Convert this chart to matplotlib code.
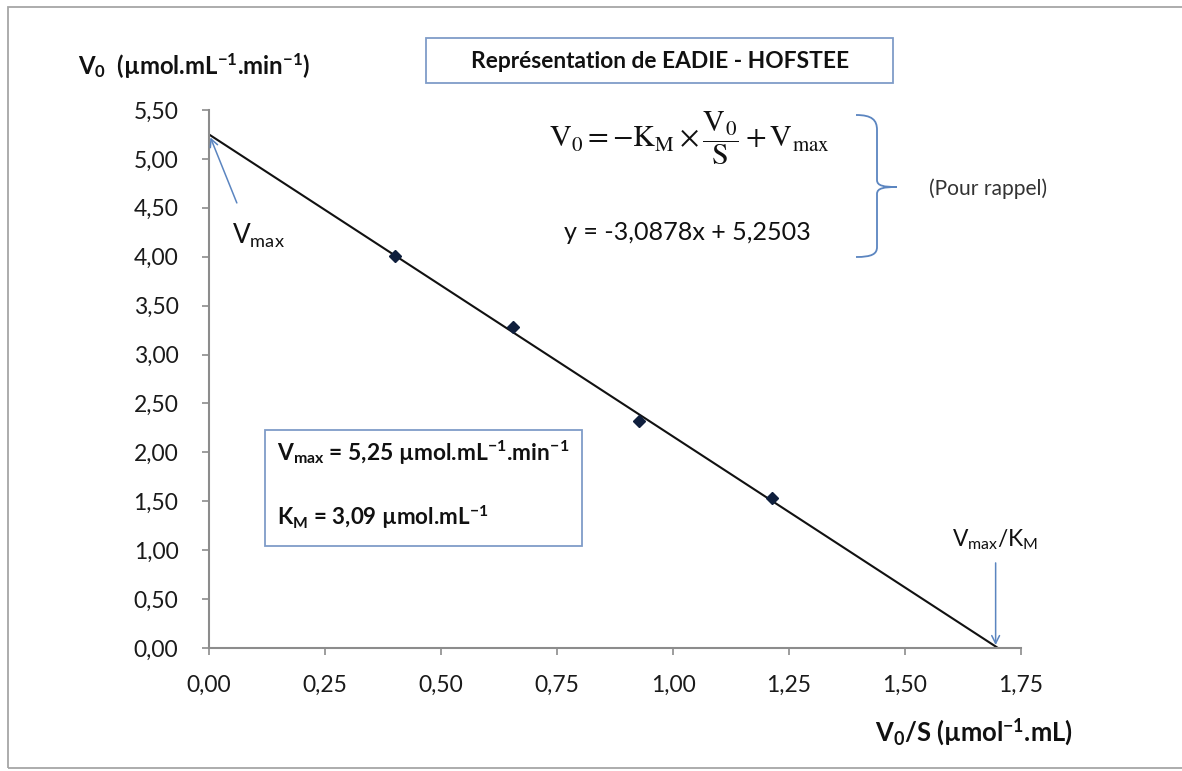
import matplotlib
matplotlib.use("Agg")
import matplotlib.pyplot as plt
from matplotlib.patches import Rectangle, PathPatch
from matplotlib.path import Path
from matplotlib.ticker import FuncFormatter
import numpy as np

# ---------------- data ----------------
x_vals = [0.400, 0.655, 0.927, 1.213]      # V0/S
y_vals = [4.01, 3.28, 2.32, 1.53]          # V0
slope = -3.0878
intercept = 5.2503
x_ticks = [0.00, 0.25, 0.50, 0.75, 1.00, 1.25, 1.50, 1.75]
y_ticks = [0.00, 0.50, 1.00, 1.50, 2.00, 2.50, 3.00, 3.50, 4.00, 4.50, 5.00, 5.50]

title_text = "Représentation de EADIE - HOFSTEE"
ylabel_text = r"$\mathbf{V_0}$  (µmol.mL$^{\mathbf{-1}}$.min$^{\mathbf{-1}}$)"
xlabel_text = r"$\mathbf{V_0}$/S (µmol$^{\mathbf{-1}}$.mL)"
equation_text = (r"$\mathrm{V_0} = -\mathrm{K_M} \times \dfrac{\mathrm{V_0}}{\mathrm{S}}"
                 r" + \mathrm{V_{max}}$")
fit_text = "y = -3,0878x + 5,2503"
rappel_text = "(Pour rappel)"
vmax_line = r"$\mathbf{V_{max}}$ = 5,25 µmol.mL$^{\mathbf{-1}}$.min$^{\mathbf{-1}}$"
km_line = r"$\mathbf{K_M}$ = 3,09 µmol.mL$^{\mathbf{-1}}$"
vmax_label = r"$\mathrm{V_{max}}$"
vmaxkm_label = r"$\mathrm{V_{max}}$/$\mathrm{K_M}$"

# ---------------- style ----------------
plt.rcParams['font.family'] = ['Lato', 'DejaVu Sans']
plt.rcParams['mathtext.fontset'] = 'custom'
plt.rcParams['mathtext.rm'] = 'Lato'
plt.rcParams['mathtext.it'] = 'Lato:italic'
plt.rcParams['mathtext.bf'] = 'Lato:bold'

W, H = 1182, 771
fig = plt.figure(figsize=(W / 100, H / 100), dpi=100)
fig.patch.set_facecolor('white')

def fx(px):
    return px / W

def fy(py):
    return 1 - py / H

ax_l, ax_r, ax_t, ax_b = 209, 1021, 110, 648
ax = fig.add_axes([fx(ax_l), fy(ax_b), (ax_r - ax_l) / W, (ax_b - ax_t) / H])
ax.set_xlim(x_ticks[0], x_ticks[-1])
ax.set_ylim(y_ticks[0], y_ticks[-1])
ax.set_xticks(x_ticks)
ax.set_yticks(y_ticks)
comma = FuncFormatter(lambda v, p: f"{v:.2f}".replace('.', ','))
ax.xaxis.set_major_formatter(comma)
ax.yaxis.set_major_formatter(comma)
for s in ['top', 'right']:
    ax.spines[s].set_visible(False)
axis_grey = '#8c8c8c'
for s in ['left', 'bottom']:
    ax.spines[s].set_color(axis_grey)
    ax.spines[s].set_linewidth(1.5)
ax.tick_params(axis='both', direction='out', length=5, width=1.2, color=axis_grey,
               labelsize=16.5, labelcolor='#1a1a1a')
ax.tick_params(axis='y', pad=17)
ax.tick_params(axis='x', pad=14)
ax.patch.set_alpha(0)

# trend line from regression coefficients
x_int = -intercept / slope
xl = np.array([0.0, x_int])
ax.plot(xl, slope * xl + intercept, color='#111111', lw=1.5, zorder=2)
ax.plot(x_vals, y_vals, linestyle='none', marker='D', markersize=6,
        color='#0f1f3d', zorder=3)

blue = '#5b85c0'
# arrows
ax.annotate('', xy=(0.003, 5.22), xytext=(0.060, 4.55),
            arrowprops=dict(arrowstyle='->', color=blue, lw=1.1, shrinkA=0, shrinkB=0,
                            mutation_scale=14))
ax.annotate('', xy=(x_int - 0.005, 0.03), xytext=(x_int - 0.005, 0.87),
            arrowprops=dict(arrowstyle='->', color=blue, lw=1.1, shrinkA=0, shrinkB=0,
                            mutation_scale=14), annotation_clip=False)

texts = []
def put(px, py, s, width=None, ha='left', **kw):
    t = fig.text(fx(px), fy(py), s, ha=ha, va='center', **kw)
    texts.append((t, width))
    return t

put(78, 66, ylabel_text, 232, fontsize=16, fontweight='bold', color='#111111')
put(660, 61, title_text, 379, ha='center', fontsize=14, fontweight='bold', color='#111111')
put(549, 138, equation_text, 281, fontsize=20, math_fontfamily='stix', color='#111111')
put(564, 233, fit_text, 248, fontsize=18, color='#111111')
put(929, 189, rappel_text, 118, fontsize=12, color='#333333')
put(875, 732, xlabel_text, 198, fontsize=16, fontweight='bold', color='#111111')
put(277, 453, vmax_line, 291, fontsize=14, fontweight='bold', color='#111111')
put(277, 517, km_line, 212, fontsize=14, fontweight='bold', color='#111111')
put(232, 236, vmax_label, 53, fontsize=16, color='#111111')
put(995, 540, vmaxkm_label, 86, ha='center', fontsize=16, color='#111111')

fig.canvas.draw()
r = fig.canvas.get_renderer()
for t, w in texts:
    if w:
        for _ in range(2):
            bb = t.get_window_extent(r)
            t.set_fontsize(t.get_fontsize() * w / bb.width)
            fig.canvas.draw()

# boxes
box_edge = '#7f9cc8'
fig.add_artist(Rectangle((fx(426), fy(83)), (893 - 426) / W, (83 - 38) / H,
                         transform=fig.transFigure, fill=False, edgecolor=box_edge, lw=1.3))
fig.add_artist(Rectangle((fx(265), fy(546)), (582 - 265) / W, (546 - 430) / H,
                         transform=fig.transFigure, fill=False, edgecolor=box_edge, lw=1.3))
# outer chart border
fig.add_artist(Rectangle((fx(8), fy(768)), (1200 - 8) / W, (768 - 7) / H,
                         transform=fig.transFigure, fill=False, edgecolor='#a6a6a6', lw=1.3))

# curly brace
verts = [(856, 115), (872, 115), (877, 120), (877, 130),
         (877, 180),
         (877, 186), (884, 187), (897, 187),
         (884, 187), (877, 188), (877, 194),
         (877, 247),
         (877, 254), (872, 257), (856, 257)]
codes = [Path.MOVETO, Path.CURVE4, Path.CURVE4, Path.CURVE4,
         Path.LINETO,
         Path.CURVE4, Path.CURVE4, Path.CURVE4,
         Path.CURVE4, Path.CURVE4, Path.CURVE4,
         Path.LINETO,
         Path.CURVE4, Path.CURVE4, Path.CURVE4]
brace = Path([(fx(a), fy(b)) for a, b in verts], codes)
fig.add_artist(PathPatch(brace, transform=fig.transFigure, fill=False,
                         edgecolor='#5b85c0', lw=1.3))

fig.savefig('out.png', dpi=100)
